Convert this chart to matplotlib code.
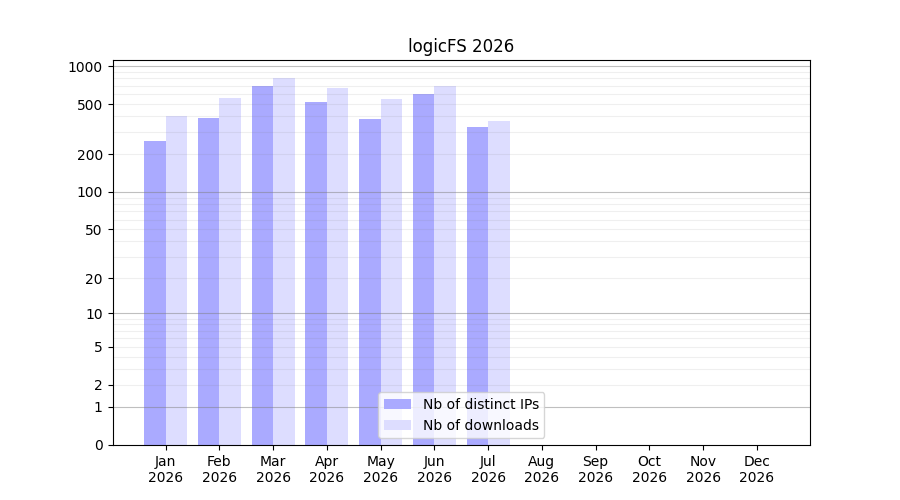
import matplotlib
matplotlib.use("Agg")
import matplotlib.pyplot as plt
import numpy as np

title = "logicFS 2026"
months = ["Jan", "Feb", "Mar", "Apr", "May", "Jun", "Jul", "Aug", "Sep", "Oct", "Nov", "Dec"]
year = "2026"
distinct_ips = [254, 386, 691, 517, 379, 598, 327, 0, 0, 0, 0, 0]
downloads = [400, 556, 800, 667, 545, 691, 365, 0, 0, 0, 0, 0]
ytick_values = [0, 1, 2, 5, 10, 20, 50, 100, 200, 500, 1000]
major_grid = [1, 10, 100, 1000]
minor_grid = [2, 3, 4, 5, 6, 7, 8, 9, 20, 30, 40, 50, 60, 70, 80, 90,
              200, 300, 400, 500, 600, 700, 800, 900]

fig, ax = plt.subplots(figsize=(9, 5), dpi=100)
ax.set_yscale("function", functions=(lambda y: np.log10(np.maximum(y, -0.999999) + 1),
                                     lambda y: 10 ** y - 1))
x = np.arange(1, len(months) + 1)
w = 0.4
ax.bar(x, distinct_ips, width=-w, align="edge", color="#aaaaff", label="Nb of distinct IPs", zorder=1)
ax.bar(x, downloads, width=w, align="edge", color="#ddddff", label="Nb of downloads", zorder=1)

for v in major_grid:
    ax.axhline(v, color="gray", alpha=0.5, linewidth=0.8, zorder=2)
for v in minor_grid:
    ax.axhline(v, color="gray", alpha=0.12, linewidth=0.8, zorder=2)

ax.set_yticks(ytick_values)
ax.set_yticklabels([str(v) for v in ytick_values])
ax.yaxis.set_minor_locator(matplotlib.ticker.NullLocator())
ax.set_xticks(x)
ax.set_xticklabels([f"{m}\n{year}" for m in months])
ax.set_ylim(bottom=0)
ax.set_title(title)
ax.legend(loc="lower center")
fig.savefig("out.png", dpi=100)
